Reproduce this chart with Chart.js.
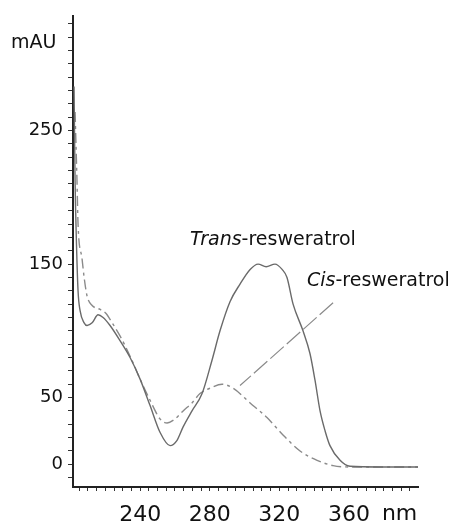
<!DOCTYPE html>
<html>
<head>
<meta charset="utf-8">
<script src="https://cdn.jsdelivr.net/npm/chart.js@4/dist/chart.umd.min.js"></script>
<style>
  html, body { margin: 0; padding: 0; background: #fff; }
  #wrap { width: 455px; height: 526px; }
</style>
</head>
<body>
<div id="wrap"><canvas id="spectrum"></canvas></div>
<script>
// wavelength (nm) / absorbance (mAU)
var transNm = [202.0, 202.6, 203.2, 204.3, 205.5, 207.8, 209.5, 212.4, 215.8, 218.7, 222.7, 228.5, 234.2, 239.9, 245.7, 251.4, 257.2, 261.2, 264.7, 269.8, 275.6, 281.3, 285.9, 291.7, 297.4, 303.2, 307.8, 312.4, 317.5, 321.6, 324.4, 327.9, 333.6, 337.6, 340.5, 343.4, 346.3, 349.1, 354.9, 360.6, 377.9, 399.7];
var transAbs = [283, 212, 175, 130, 115, 106, 104, 106, 112, 110, 104, 92.5, 80, 64, 44, 24, 14, 18, 28, 40, 53, 78, 100, 122, 135, 146, 150, 148, 150, 146, 140, 120, 100, 83, 63, 40, 25, 14, 3, -1.5, -2, -2];

var cisNm = [202.6, 203.7, 204.3, 206.6, 207.8, 209.5, 212.4, 217.0, 220.4, 223.9, 228.5, 234.2, 239.9, 245.7, 251.4, 255.5, 260.1, 264.7, 269.8, 274.4, 280.2, 287.1, 293.4, 303.2, 312.9, 322.1, 331.9, 341.7, 350.9, 360.6, 399.7];
var cisAbs = [264, 212, 180, 154, 140, 126, 119, 116, 113, 106, 96, 81, 64, 48, 34, 31, 34, 40, 46, 53, 57, 60, 57, 46, 35, 22, 10, 3, -1, -2, -2];

// leader line from the Cis label down to its curve
var leaderNm = [350.9, 297.4];
var leaderAbs = [121, 59];

var xLabels = [240, 280, 320, 360];
var yLabels = [0, 50, 150, 250];

var FONT = '"DejaVu Sans", Verdana, sans-serif';

function toPoints(xs, ys) {
    return xs.map(function(x, i) { return { x: x, y: ys[i] }; });
}

var textPlugin = {
    id: 'labels',
    afterDraw: function(chart) {
        var ctx = chart.ctx;
        var xs = chart.scales.x, ys = chart.scales.y;
        ctx.save();
        ctx.fillStyle = '#111';
        ctx.textBaseline = 'middle';
        ctx.textAlign = 'left';

        ctx.font = '19px ' + FONT;
        ctx.fillText('mAU', 11, 43);

        ctx.font = '22px ' + FONT;
        ctx.fillText('nm', xs.getPixelForValue(360) + 33, 514);

        // curve names, italic prefix + normal rest
        function label(italic, rest, nm, val) {
            var px = xs.getPixelForValue(nm), py = ys.getPixelForValue(val);
            ctx.font = 'oblique 19px ' + FONT;
            ctx.fillText(italic, px, py);
            var w = ctx.measureText(italic).width;
            ctx.font = '19px ' + FONT;
            ctx.fillText(rest, px + w, py);
        }
        label('Trans', '-resweratrol', 268.7, 168);
        label('Cis', '-resweratrol', 335.9, 137);
        ctx.restore();
    }
};

var chart = new Chart(document.getElementById('spectrum'), {
    type: 'line',
    data: {
        datasets: [
            {
                label: 'Trans',
                data: toPoints(transNm, transAbs),
                borderColor: '#6a6a6a',
                borderWidth: 1.4,
                pointRadius: 0,
                cubicInterpolationMode: 'monotone'
            },
            {
                label: 'Cis',
                data: toPoints(cisNm, cisAbs),
                borderColor: '#8a8a8a',
                borderWidth: 1.4,
                borderDash: [10, 4, 3, 4],
                pointRadius: 0,
                cubicInterpolationMode: 'monotone'
            },
            {
                label: 'leader',
                data: toPoints(leaderNm, leaderAbs),
                borderColor: '#8a8a8a',
                borderWidth: 1.2,
                borderDash: [18, 4],
                pointRadius: 0
            }
        ]
    },
    options: {
        responsive: true,
        maintainAspectRatio: false,
        animation: false,
        layout: { padding: { left: 0, top: 14, right: 37, bottom: 0 } },
        plugins: {
            legend: { display: false },
            tooltip: { enabled: false }
        },
        scales: {
            x: {
                type: 'linear',
                min: 201.4,
                max: 399.7,
                afterBuildTicks: function(scale) {
                    var t = [];
                    for (var v = 205; v <= 395; v += 5) t.push({ value: v });
                    scale.ticks = t;
                },
                afterFit: function(scale) { scale.height = 39; },
                border: { display: true, color: '#222', width: 2 },
                grid: { display: true, drawOnChartArea: false, tickLength: 4, color: '#333', tickWidth: 1 },
                ticks: {
                    autoSkip: false,
                    maxRotation: 0,
                    padding: 11,
                    color: '#111',
                    font: { family: FONT, size: 22 },
                    callback: function(v) { return xLabels.indexOf(v) >= 0 ? String(v) : ''; }
                }
            },
            y: {
                type: 'linear',
                min: -17,
                max: 336,
                afterBuildTicks: function(scale) {
                    var t = [];
                    for (var v = -10; v <= 330; v += 10) t.push({ value: v });
                    scale.ticks = t;
                },
                afterFit: function(scale) { scale.width = 73; },
                border: { display: true, color: '#222', width: 2 },
                grid: { display: true, drawOnChartArea: false, tickLength: 5, color: '#333', tickWidth: 1 },
                ticks: {
                    autoSkip: false,
                    padding: 5,
                    color: '#111',
                    font: { family: FONT, size: 18 },
                    callback: function(v) { return yLabels.indexOf(v) >= 0 ? String(v) : ''; }
                }
            }
        }
    },
    plugins: [textPlugin]
});
</script>
</body>
</html>
